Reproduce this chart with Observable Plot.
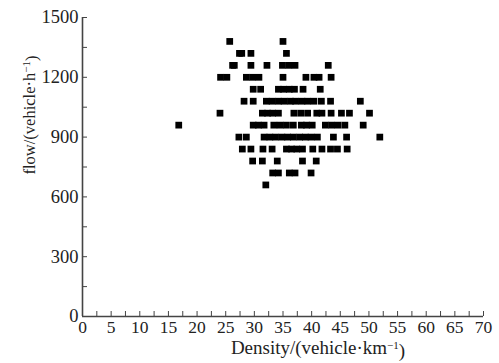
<!DOCTYPE html>
<html>
<head>
<meta charset="utf-8">
<script src="https://cdn.jsdelivr.net/npm/d3@7"></script>
<script src="https://cdn.jsdelivr.net/npm/@observablehq/plot@0.6"></script>
<style>
  html, body { margin: 0; padding: 0; background: #fff; }
  #chart svg { display: block; }
</style>
</head>
<body>
<div id="chart"></div>
<script>
// Flow levels (vehicle/h) and the densities (vehicle/km) observed at each level
const flowLevels = [1380, 1320, 1260, 1200, 1140, 1080, 1020, 960, 900, 840, 780, 720, 660];
const dens1380 = [25.7, 35.0];
const dens1320 = [27.4, 27.8, 29.4, 35.6];
const dens1260 = [26.2, 26.5, 29.4, 32.2, 34.9, 36.0, 37.1, 42.9];
const dens1200 = [24.1, 25.2, 28.6, 29.7, 30.8, 35.0, 39.0, 40.4, 41.3, 43.4];
const dens1140 = [29.8, 31.1, 34.2, 35.1, 36.1, 37.0, 38.5, 41.5];
const dens1080 = [28.2, 29.8, 32.1, 33.1, 34.2, 35.2, 36.3, 37.2, 38.3, 39.3, 40.4, 41.7, 43.3, 48.5];
const dens1020 = [24.0, 31.4, 32.3, 33.2, 34.2, 36.9, 38.1, 39.3, 40.9, 41.8, 43.4, 45.2, 46.6, 50.1];
const dens960  = [16.8, 29.8, 30.7, 31.7, 33.4, 34.5, 35.6, 36.8, 38.2, 39.1, 40.1, 42.4, 43.5, 44.6, 45.8, 49.0];
const dens900  = [27.3, 28.6, 31.7, 32.7, 33.7, 34.8, 35.8, 36.8, 37.9, 38.9, 39.9, 41.0, 43.8, 46.1, 51.9];
const dens840  = [27.9, 29.4, 31.5, 33.1, 35.6, 36.5, 37.4, 38.4, 40.2, 41.8, 43.3, 44.5, 46.2];
const dens780  = [29.7, 31.4, 34.0, 38.4, 40.8];
const dens720  = [33.2, 34.2, 36.1, 37.1, 39.9];
const dens660  = [32.0];
const densRows = [dens1380, dens1320, dens1260, dens1200, dens1140, dens1080, dens1020,
                  dens960, dens900, dens840, dens780, dens720, dens660];

const xMajorTicks = [0, 5, 10, 15, 20, 25, 30, 35, 40, 45, 50, 55, 60, 65, 70];
const xMinorTicks = [0, 2.5, 5, 7.5, 10, 12.5, 15, 17.5, 20, 22.5, 25, 27.5, 30, 32.5, 35, 37.5,
                     40, 42.5, 45, 47.5, 50, 52.5, 55, 57.5, 60, 62.5, 65, 67.5, 70];
const yMajorTicks = [0, 300, 600, 900, 1200, 1500];
const yMinorTicks = [0, 150, 300, 450, 600, 750, 900, 1050, 1200, 1350, 1500];

const xLabel = "Density/(vehicle·km⁻¹)";
const yLabel = "flow/(vehicle·h⁻¹)";

const points = [];
flowLevels.forEach((f, i) => densRows[i].forEach(d => points.push({density: d, flow: f})));

const font = "'Liberation Serif', 'Times New Roman', serif";

const chart = Plot.plot({
  width: 499,
  height: 363,
  marginLeft: 82,
  marginRight: 16,
  marginTop: 17,
  marginBottom: 47,
  style: {fontFamily: font, fontSize: "17px", color: "#222", background: "#fff"},
  x: {domain: [0, 70]},
  y: {domain: [0, 1500]},
  marks: [
    Plot.axisX(xMinorTicks, {tickSize: -5, fill: "none", label: null, stroke: "#444"}),
    Plot.axisX(xMajorTicks, {tickSize: 0, stroke: "none", tickPadding: 4, label: null, fontSize: 17.5, tickFormat: d => String(d)}),
    Plot.axisY(yMinorTicks, {tickSize: -5, fill: "none", label: null, stroke: "#444"}),
    Plot.axisY(yMajorTicks, {tickSize: 0, stroke: "none", tickPadding: 4, label: null, fontSize: 18.5, tickFormat: d => String(d)}),
    Plot.ruleX([0], {stroke: "#444", strokeWidth: 1.6}),
    Plot.ruleY([0], {stroke: "#444", strokeWidth: 1.6}),
    Plot.dot(points, {x: "density", y: "flow", symbol: "square", r: 3.8, fill: "#000", stroke: null}),
    Plot.text([xLabel], {frameAnchor: "bottom", textAnchor: "middle", dx: 35, dy: 37, fontSize: 19, fill: "#222"}),
    Plot.text([yLabel], {frameAnchor: "left", textAnchor: "middle", lineAnchor: "middle", dx: -53, dy: -52, rotate: -90, fontSize: 16.5, fill: "#222"})
  ]
});

// render the "⁻¹" exponents as true superscripts
d3.select(chart).selectAll("text").each(function() {
  const t = this.textContent;
  if (t.includes("⁻¹") && this.childElementCount === 0) {
    const [before, after] = t.split("⁻¹");
    const sel = d3.select(this);
    sel.text(null);
    sel.append("tspan").text(before);
    sel.append("tspan").attr("dy", "-0.45em").attr("font-size", "11px").text("−1");
    sel.append("tspan").attr("dy", "0.45em").text(after);
  }
});

document.getElementById("chart").appendChild(chart);
</script>
</body>
</html>
